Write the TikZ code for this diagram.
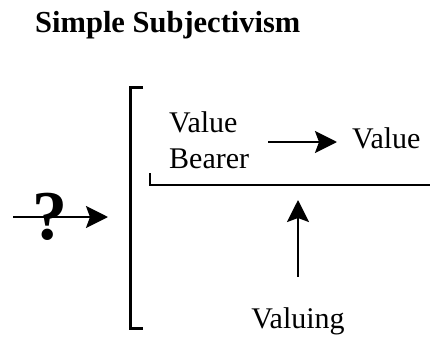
\documentclass[tikz,border=0pt]{standalone}
\usepackage{fontspec}
\setmainfont{Liberation Serif}
\usetikzlibrary{arrows.meta}
\begin{document}
\begin{tikzpicture}[x=1pt,y=-1pt,
  lbl/.style={inner sep=0pt, font=\fontsize{30}{36}\selectfont},
  arr/.style={line width=2.5pt, -{Stealth[length=22pt,width=22pt,inset=4pt]}},
  brk/.style={line width=3pt},
  rule/.style={line width=2.5pt}]
\useasboundingbox (0,0) rectangle (430,337);
\node[inner sep=0pt, anchor=base west, font=\fontsize{30.5}{36}\selectfont\bfseries] (title) at (35,33) {Simple Subjectivism};
% outer bracket
\coordinate (btop) at (130,87);
\coordinate (bbot) at (130,328);
\coordinate (bmid) at (130,217);
\draw[brk] ([xshift=13pt]btop) -- (btop) -- (bbot) -- ([xshift=13pt]bbot);
% question arrow
\coordinate (qstart) at (13,217);
\node[inner sep=0pt, font=\fontsize{70}{76}\selectfont\bfseries] (q) at (50,217) {?};
\draw[arr] (qstart) -- ([xshift=-22pt]bmid);
% inner content
\node[lbl, align=left, anchor=base west] (vb) at (169,168) {Value\\Bearer};
\node[lbl, anchor=base west] (val) at (352,148) {Value};
\draw[arr] ([xshift=19pt]vb.east |- 0,142) -- ([xshift=-15pt]val.west |- 0,142);
% inner bracket line
\coordinate (ltick) at (150,173);
\coordinate (lcorner) at (150,185);
\coordinate (rend) at (430,185);
\draw[rule] (ltick) -- (lcorner) -- (rend);
% valuing
\node[lbl, anchor=base] (valuing) at (298,328) {Valuing};
\draw[arr] ([yshift=30pt]valuing.north) -- (valuing.north |- 0,200);
\end{tikzpicture}
\end{document}
